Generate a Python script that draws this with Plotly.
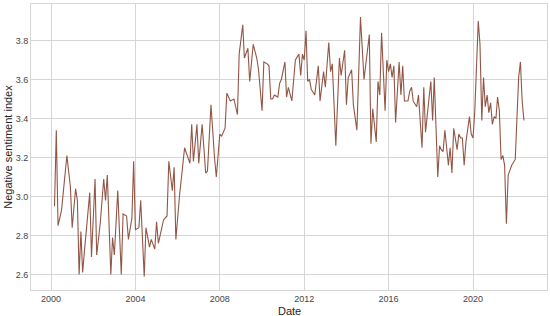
import pandas as pd
import plotly.graph_objects as go

# months elapsed since January 2000
months_since_2000 = [
    2, 3, 4, 5, 6, 9, 11, 12, 14, 15, 16, 17, 18, 19, 22, 23, 25, 26, 28, 30,
    31, 32, 34, 35, 36, 38, 40, 41, 43, 44, 46, 47, 48, 50, 51, 53, 54, 56, 57, 59,
    60, 61, 63, 64, 66, 67, 69, 70, 71, 73, 76, 77, 79, 80, 81, 83, 84, 86, 88, 89,
    91, 93, 94, 96, 97, 99, 100, 102, 104, 106, 107, 109, 110, 112, 113, 115, 116, 117, 118, 120,
    121, 123, 124, 125, 126, 127, 129, 130, 131, 133, 134, 135, 137, 138, 139, 141, 142, 143, 144, 145,
    146, 147, 148, 150, 152, 153, 155, 156, 158, 159, 160, 162, 164, 165, 167, 168, 169, 171, 172, 174,
    176, 178, 181, 182, 183, 185, 186, 187, 188, 190, 191, 192, 193, 194, 195, 196, 198, 199, 200, 201,
    203, 204, 205, 206, 208, 209, 211, 212, 213, 214, 216, 217, 218, 220, 221, 222, 223, 224, 226, 227,
    228, 229, 231, 232, 233, 234, 235, 236, 238, 239, 240, 241, 243, 244, 245, 246, 247, 248, 249, 250,
    251, 252, 253, 254, 255, 256, 257, 258, 259, 260, 262, 264, 266, 267, 268, 269,
]
sentiment = [
    2.95, 3.34, 2.85, 2.90, 2.93, 3.21, 3.05, 2.84, 3.04, 2.98, 2.60, 2.82, 2.61, 2.72, 3.02, 2.69, 3.09, 2.70, 2.86, 3.09,
    2.98, 3.11, 2.60, 2.79, 2.70, 3.03, 2.60, 2.91, 2.90, 2.78, 2.89, 3.18, 2.83, 2.84, 2.98, 2.59, 2.84, 2.74, 2.78, 2.73,
    2.87, 2.76, 2.85, 2.88, 2.90, 3.18, 3.03, 3.15, 2.78, 3.00, 3.25, 3.22, 3.17, 3.37, 3.18, 3.37, 3.17, 3.37, 3.12, 3.13,
    3.47, 3.20, 3.10, 3.32, 3.31, 3.35, 3.53, 3.49, 3.50, 3.42, 3.73, 3.88, 3.71, 3.76, 3.59, 3.78, 3.74, 3.71, 3.65, 3.44,
    3.69, 3.68, 3.67, 3.50, 3.50, 3.52, 3.51, 3.58, 3.60, 3.69, 3.51, 3.56, 3.49, 3.62, 3.70, 3.73, 3.62, 3.73, 3.70, 3.85,
    3.59, 3.60, 3.55, 3.52, 3.67, 3.49, 3.64, 3.56, 3.79, 3.64, 3.68, 3.26, 3.71, 3.62, 3.75, 3.47, 3.61, 3.65, 3.47, 3.34,
    3.92, 3.60, 3.83, 3.27, 3.45, 3.28, 3.59, 3.52, 3.84, 3.44, 3.70, 3.64, 3.68, 3.61, 3.67, 3.38, 3.69, 3.52, 3.67, 3.49,
    3.49, 3.54, 3.56, 3.49, 3.46, 3.52, 3.25, 3.56, 3.33, 3.42, 3.59, 3.39, 3.61, 3.10, 3.26, 3.24, 3.23, 3.34, 3.16, 3.25,
    3.12, 3.35, 3.24, 3.32, 3.30, 3.30, 3.16, 3.28, 3.41, 3.32, 3.30, 3.44, 3.90, 3.78, 3.39, 3.61, 3.46, 3.52, 3.43, 3.48,
    3.37, 3.41, 3.40, 3.51, 3.44, 3.19, 3.21, 3.16, 2.86, 3.11, 3.16, 3.19, 3.61, 3.69, 3.49, 3.39,
]
x_tick_years = [2000, 2004, 2008, 2012, 2016, 2020]
y_tick_values = [2.6, 2.8, 3.0, 3.2, 3.4, 3.6, 3.8]

dates = [pd.Timestamp(2000 + m // 12, m % 12 + 1, 1) for m in months_since_2000]

fig = go.Figure()
fig.add_trace(go.Scatter(
    x=dates, y=sentiment, mode="lines",
    line=dict(color="rgb(146,86,70)", width=1.1),
    showlegend=False,
))

grid = "#d6d6d6"
fig.update_layout(
    width=550, height=316,
    margin=dict(l=31, r=3, t=4, b=26),
    paper_bgcolor="white", plot_bgcolor="white",
    font=dict(family="Liberation Sans, Arial, sans-serif", color="#333333"),
    xaxis=dict(
        type="date",
        range=["1999-01-19", "2023-07-05"],
        tickvals=[pd.Timestamp(y, 1, 1) for y in x_tick_years],
        ticktext=[str(y) for y in x_tick_years],
        tickfont=dict(size=9, color="#444444"),
        showgrid=True, gridcolor=grid, gridwidth=1,
        showline=True, linecolor=grid, mirror=True,
        zeroline=False, ticks="", automargin=False,
    ),
    yaxis=dict(
        range=[2.5205, 3.987],
        tickvals=y_tick_values,
        ticktext=[f"{v:.1f}" for v in y_tick_values],
        tickfont=dict(size=9, color="#444444"),
        showgrid=True, gridcolor=grid, gridwidth=1,
        showline=True, linecolor=grid, mirror=True,
        zeroline=False, ticks="", automargin=False,
    ),
    annotations=[
        dict(text="Date", xref="paper", yref="paper", x=0.5, y=-0.072,
             xanchor="center", yanchor="middle", showarrow=False,
             font=dict(size=11, color="#222222")),
        dict(text="Negative sentiment index", xref="paper", yref="paper",
             x=-0.045, y=0.5, xanchor="center", yanchor="middle",
             textangle=-90, showarrow=False,
             font=dict(size=11, color="#222222")),
    ],
)

fig.write_html(
    "out.html",
    config={"displayModeBar": False},
    post_script="document.body.style.margin='0px';document.body.style.overflow='hidden';",
)
